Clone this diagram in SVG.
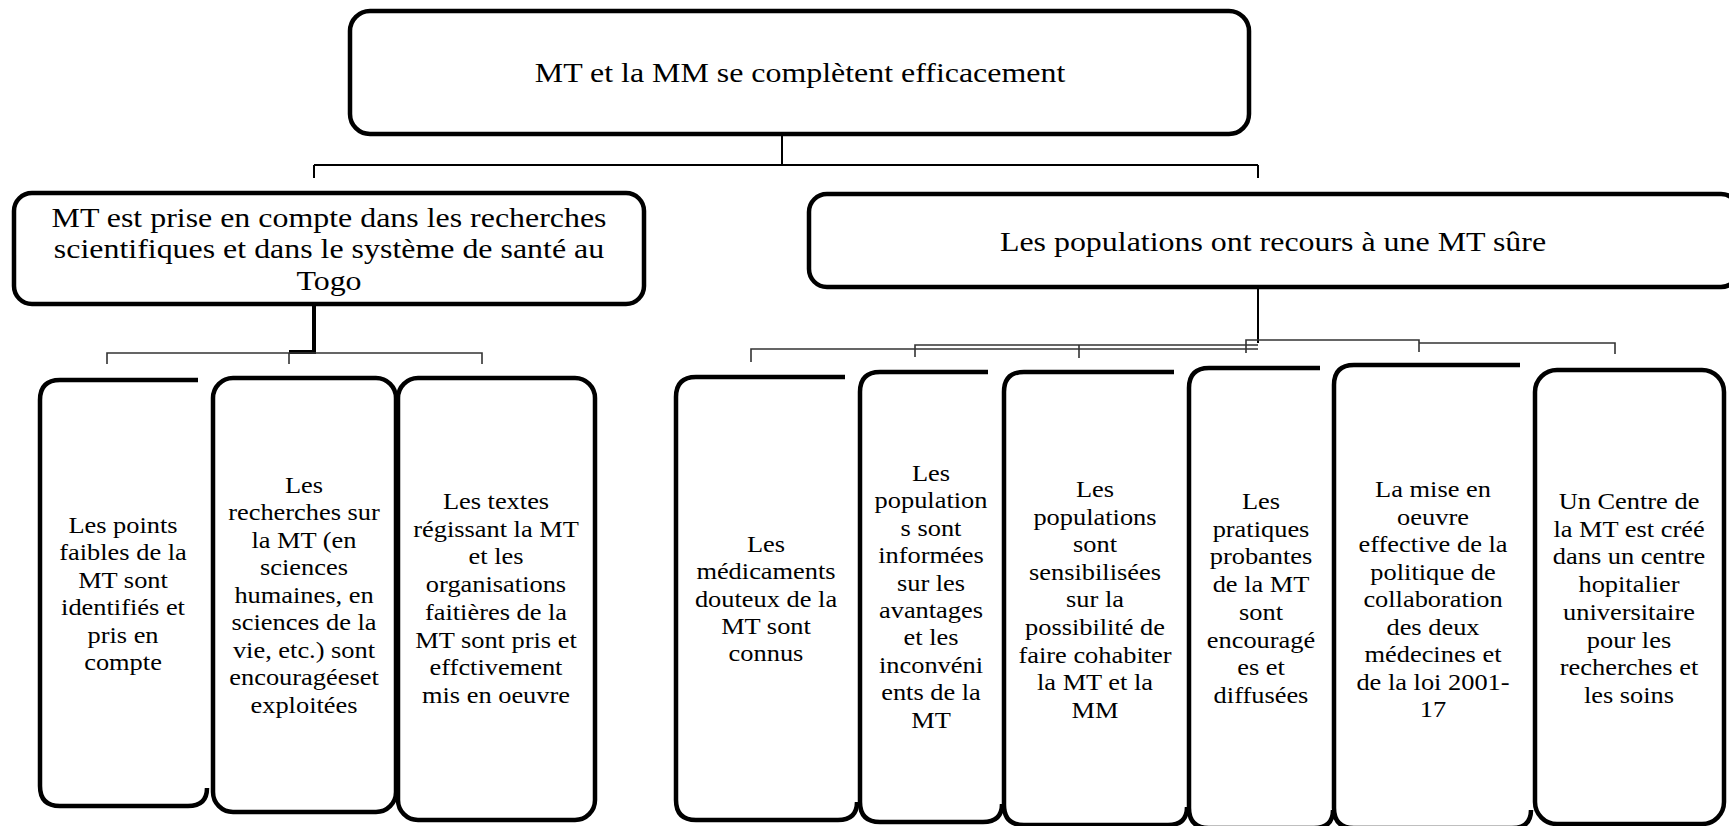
<svg xmlns="http://www.w3.org/2000/svg" width="1729" height="826" viewBox="0 0 1729 826">
<style>
.box{fill:#fff;stroke:#000;stroke-width:4.5;stroke-linecap:butt;stroke-linejoin:round}
.obox{fill:#fff;stroke:#000;stroke-width:4.5;stroke-linecap:butt;stroke-linejoin:round}
.t{font-family:"Liberation Serif","Times New Roman",serif;fill:#000;text-anchor:middle}
.h{font-size:28px}
.l{font-size:24px}
.c{fill:none;stroke:#000;stroke-width:2}
.cg{fill:none;stroke:#333;stroke-width:1.6}
.ct{fill:none;stroke:#000;stroke-width:4}
</style>
<rect width="1729" height="826" fill="#fff"/>
<g id="connectors">
<path class="c" d="M782,135 V165 M314,165 H1258 M314,165 V178 M1258,165 V178"/>
<path class="ct" d="M314,305 V352 H289"/>
<path class="cg" d="M107,364 V353 H482 V364 M289,353 V364"/>
<path class="c" d="M1258,287 V343"/>
<path class="cg" d="M751,362 V349 H1258 M915,357 V345 H1258 M1079,358 V345 M1246,353 V340 H1258 M1258,340 H1419 V352 M1419,343 H1615 V354"/>
</g>
<g id="n0">
<rect class="box" x="350" y="11" width="899" height="123" rx="20"/>
<text class="t h" transform="translate(800,0) scale(1.14,1)"><tspan x="0" y="82">MT et la MM se complètent efficacement</tspan></text>
</g>
<g id="n1">
<rect class="box" x="14" y="193" width="630" height="111" rx="18"/>
<text class="t h" transform="translate(329,0) scale(1.14,1)"><tspan x="0" y="227">MT est prise en compte dans les recherches</tspan><tspan x="0" y="258">scientifiques et dans le système de santé au</tspan><tspan x="0" y="290">Togo</tspan></text>
</g>
<g id="n2">
<rect class="box" x="809" y="194" width="930" height="93" rx="18"/>
<text class="t h" transform="translate(1273,0) scale(1.14,1)"><tspan x="0" y="251">Les populations ont recours à une MT sûre</tspan></text>
</g>
<g id="n3">
<path class="obox" d="M198,380 H60 Q40,380 40,400 V786 Q40,806 60,806 H188 Q207,806 207,788"/>
<text class="t l" transform="translate(123,0) scale(1.1,1)"><tspan x="0" y="533">Les points</tspan><tspan x="0" y="560">faibles de la</tspan><tspan x="0" y="588">MT sont</tspan><tspan x="0" y="615">identifiés et</tspan><tspan x="0" y="643">pris en</tspan><tspan x="0" y="670">compte</tspan></text>
</g>
<g id="n4">
<rect class="box" x="213" y="378" width="183" height="434" rx="20"/>
<text class="t l" transform="translate(304,0) scale(1.1,1)"><tspan x="0" y="493">Les</tspan><tspan x="0" y="520">recherches sur</tspan><tspan x="0" y="548">la MT (en</tspan><tspan x="0" y="575">sciences</tspan><tspan x="0" y="603">humaines, en</tspan><tspan x="0" y="630">sciences de la</tspan><tspan x="0" y="658">vie, etc.) sont</tspan><tspan x="0" y="685">encouragéeset</tspan><tspan x="0" y="713">exploitées</tspan></text>
</g>
<g id="n5">
<rect class="box" x="398" y="378" width="197" height="442" rx="20"/>
<text class="t l" transform="translate(496,0) scale(1.1,1)"><tspan x="0" y="509">Les textes</tspan><tspan x="0" y="537">régissant la MT</tspan><tspan x="0" y="564">et les</tspan><tspan x="0" y="592">organisations</tspan><tspan x="0" y="620">faitières de la</tspan><tspan x="0" y="648">MT sont pris et</tspan><tspan x="0" y="675">effctivement</tspan><tspan x="0" y="703">mis en oeuvre</tspan></text>
</g>
<g id="n6">
<path class="obox" d="M845,377 H696 Q676,377 676,397 V800 Q676,820 696,820 H838 Q857,820 857,802"/>
<text class="t l" transform="translate(766,0) scale(1.1,1)"><tspan x="0" y="552">Les</tspan><tspan x="0" y="579">médicaments</tspan><tspan x="0" y="607">douteux de la</tspan><tspan x="0" y="634">MT sont</tspan><tspan x="0" y="661">connus</tspan></text>
</g>
<g id="n7">
<path class="obox" d="M988,372 H880 Q860,372 860,392 V802 Q860,822 880,822 H983 Q1002,822 1002,804"/>
<text class="t l" transform="translate(931,0) scale(1.1,1)"><tspan x="0" y="481">Les</tspan><tspan x="0" y="508">population</tspan><tspan x="0" y="536">s sont</tspan><tspan x="0" y="563">informées</tspan><tspan x="0" y="591">sur les</tspan><tspan x="0" y="618">avantages</tspan><tspan x="0" y="645">et les</tspan><tspan x="0" y="673">inconvéni</tspan><tspan x="0" y="700">ents de la</tspan><tspan x="0" y="728">MT</tspan></text>
</g>
<g id="n8">
<path class="obox" d="M1174,372 H1024 Q1004,372 1004,392 V805 Q1004,825 1024,825 H1168 Q1187,825 1187,807"/>
<text class="t l" transform="translate(1095,0) scale(1.1,1)"><tspan x="0" y="497">Les</tspan><tspan x="0" y="525">populations</tspan><tspan x="0" y="552">sont</tspan><tspan x="0" y="580">sensibilisées</tspan><tspan x="0" y="607">sur la</tspan><tspan x="0" y="635">possibilité de</tspan><tspan x="0" y="663">faire cohabiter</tspan><tspan x="0" y="690">la MT et la</tspan><tspan x="0" y="718">MM</tspan></text>
</g>
<g id="n9">
<path class="obox" d="M1320,368 H1209 Q1189,368 1189,388 V808 Q1189,828 1209,828 H1314 Q1333,828 1333,810"/>
<text class="t l" transform="translate(1261,0) scale(1.1,1)"><tspan x="0" y="509">Les</tspan><tspan x="0" y="537">pratiques</tspan><tspan x="0" y="564">probantes</tspan><tspan x="0" y="592">de la MT</tspan><tspan x="0" y="620">sont</tspan><tspan x="0" y="648">encouragé</tspan><tspan x="0" y="675">es et</tspan><tspan x="0" y="703">diffusées</tspan></text>
</g>
<g id="n10">
<path class="obox" d="M1520,365 H1354 Q1334,365 1334,385 V808 Q1334,828 1354,828 H1512 Q1531,828 1531,810"/>
<text class="t l" transform="translate(1433,0) scale(1.1,1)"><tspan x="0" y="497">La mise en</tspan><tspan x="0" y="525">oeuvre</tspan><tspan x="0" y="552">effective de la</tspan><tspan x="0" y="580">politique de</tspan><tspan x="0" y="607">collaboration</tspan><tspan x="0" y="635">des deux</tspan><tspan x="0" y="662">médecines et</tspan><tspan x="0" y="690">de la loi 2001-</tspan><tspan x="0" y="717">17</tspan></text>
</g>
<g id="n11">
<rect class="box" x="1535" y="370" width="189" height="454" rx="22"/>
<text class="t l" transform="translate(1629,0) scale(1.1,1)"><tspan x="0" y="509">Un Centre de</tspan><tspan x="0" y="537">la MT est créé</tspan><tspan x="0" y="564">dans un centre</tspan><tspan x="0" y="592">hopitalier</tspan><tspan x="0" y="620">universitaire</tspan><tspan x="0" y="648">pour les</tspan><tspan x="0" y="675">recherches et</tspan><tspan x="0" y="703">les soins</tspan></text>
</g>
</svg>
